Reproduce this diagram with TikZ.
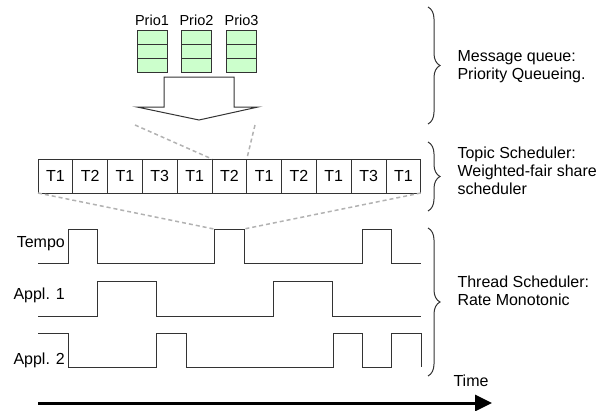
\documentclass[tikz,border=0pt]{standalone}
\usepackage{fontspec}
\setmainfont{Liberation Sans}
\usetikzlibrary{positioning,decorations.pathreplacing,arrows.meta}

\begin{document}
\begin{tikzpicture}[x=1pt, y=-1pt, font=\fontsize{16pt}{18pt}\selectfont,
        wire/.style={draw=black!80, line width=1pt},
        cell/.style={wire, fill=green!20, minimum width=30pt, minimum height=14pt, inner sep=0pt, outer sep=0pt},
        task/.style={wire, minimum width=34.8pt, minimum height=34pt, inner sep=0pt, outer sep=0pt},
        guide/.style={draw=black!30, line width=1.5pt, dash pattern=on 4pt off 3pt},
        layer/.style={wire, decorate, decoration={brace, amplitude=12pt}},
        prio/.style={font=\fontsize{14.5pt}{17pt}\selectfont, inner sep=4pt},
        note/.style={anchor=west, align=left}]
        \useasboundingbox (0,0) rectangle (609,410);
        % message queues
        \node[cell] (q1a) at (152,37) {};
        \node[cell] (q1b) [below=0pt of q1a] {};
        \node[cell] (q1c) [below=0pt of q1b] {};
        \node[cell] (q2a) at (196.5,37) {};
        \node[cell] (q2b) [below=0pt of q2a] {};
        \node[cell] (q2c) [below=0pt of q2b] {};
        \node[cell] (q3a) at (241.5,37) {};
        \node[cell] (q3b) [below=0pt of q3a] {};
        \node[cell] (q3c) [below=0pt of q3b] {};
        \node[prio] (prio1) [above=0pt of q1a] {Prio1};
        \node[prio] (prio2) [above=0pt of q2a] {Prio2};
        \node[prio] (prio3) [above=0pt of q3a] {Prio3};
        \draw[wire, fill=white] (164,77) -- (234,77) -- (234,107) -- (258,107)
            -- (199,120) -- (137,107) -- (164,107) -- cycle;
        \coordinate (fl) at (135,125);
        \coordinate (fr) at (255,125);
        % topic scheduler
        \node[task] (t1) at (55.4,176) {T1};
        \node[task] (t2) [right=0pt of t1] {T2};
        \node[task] (t3) [right=0pt of t2] {T1};
        \node[task] (t4) [right=0pt of t3] {T3};
        \node[task] (t5) [right=0pt of t4] {T1};
        \node[task] (t6) [right=0pt of t5] {T2};
        \node[task] (t7) [right=0pt of t6] {T1};
        \node[task] (t8) [right=0pt of t7] {T2};
        \node[task] (t9) [right=0pt of t8] {T1};
        \node[task] (t10) [right=0pt of t9] {T3};
        \node[task] (t11) [right=0pt of t10] {T1};
        % thread scheduler
        \coordinate (pl) at (214,229);
        \coordinate (pr) at (244,229);
        \draw[wire] (38,263) -| (68,229) -| (97,263) -| (pl) -| (244,263)
            -| (362,229) -| (391,263) -- (421,263);
        \draw[wire] (38,316) -| (97,281) -| (156,316) -| (273,281) -| (332,316) -- (421,316);
        \draw[wire] (38,333) -| (68,367) -| (156,333) -| (186,367) -| (333,333)
            -| (362,367) -| (391,333) -| (421,367);
        \node[anchor=base east, inner sep=1pt] (tempo) at (66,247) {Tempo};
        \node[anchor=base east, inner sep=1pt] (appl1) at (66,299) {Appl. 1};
        \node[anchor=base east, inner sep=1pt] (appl2) at (66,364) {Appl. 2};
        \path[guide]
        (fl) edge (t6.north west)
        (fr) edge (t6.north east)
        (t1.south west) edge (pl)
        (t11.south east) edge (pr);
        % time axis
        \coordinate (t0) at (38,403);
        \coordinate (tend) at (492,403);
        \draw[line width=3pt, -{Triangle[length=17pt,width=16pt]}] (t0) -- (tend);
        \node[anchor=base] (time) at (471,386) {Time};
        % layers
        \draw[layer] (428,7) -- (428,124);
        \draw[layer] (428,142) -- (428,211);
        \draw[layer] (428,228) -- (428,376);
        \node[note] (mq) at (454,67) {Message queue:\\Priority Queueing.};
        \node[note] (ts) at (454,171) {Topic Scheduler:\\Weighted-fair share\\scheduler};
        \node[note] (th) at (454,291) {Thread Scheduler:\\Rate Monotonic};
    \end{tikzpicture}
\end{document}
